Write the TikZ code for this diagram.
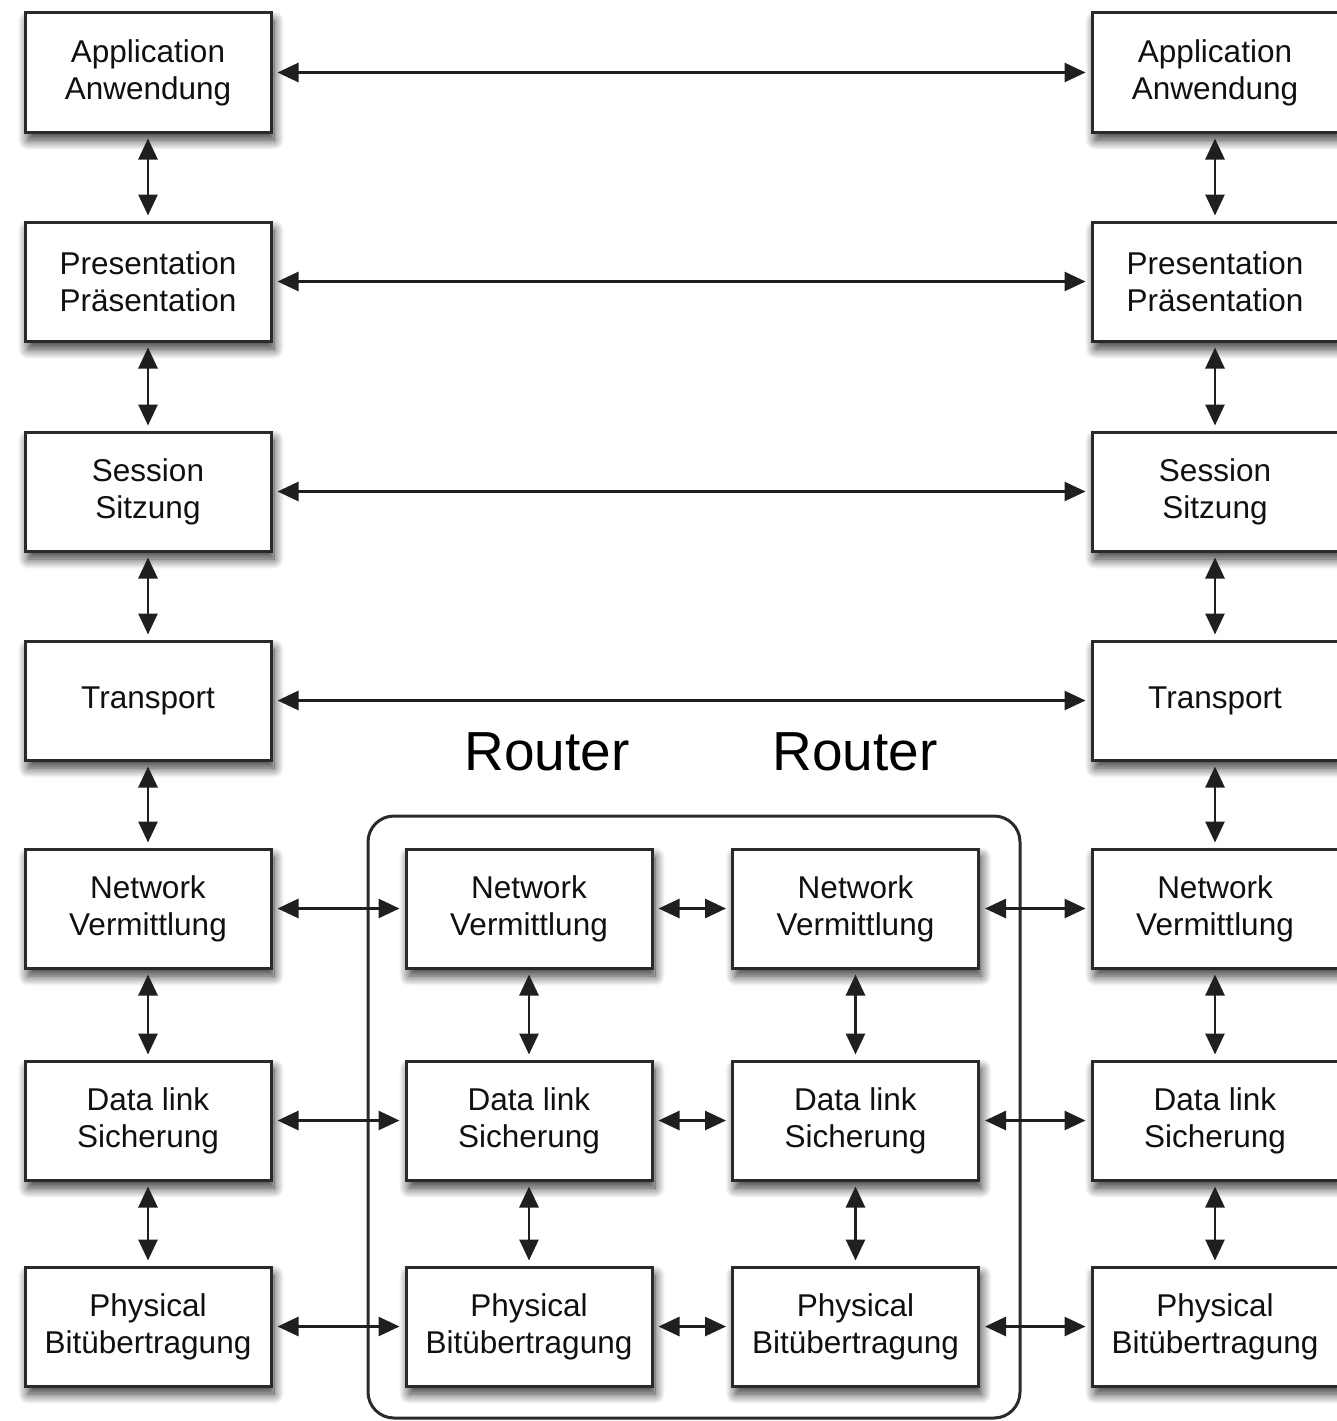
\documentclass[tikz,border=0pt]{standalone}
\usepackage{fontspec}
\setmainfont{Liberation Sans}
\usetikzlibrary{arrows.meta,shadows.blur}
\definecolor{boxline}{HTML}{2A2A2A}
\definecolor{txt}{HTML}{101010}
\tikzset{
  layer/.style={draw=boxline, line width=3pt, fill=white, minimum width=246pt, minimum height=119pt,
    inner sep=0pt, align=center, text=txt, font=\fontsize{31.5}{37}\selectfont,
    blur shadow={shadow xshift=3pt, shadow yshift=-8pt, shadow blur radius=10pt, shadow opacity=80, shadow blur steps=14}},
  conn/.style={line width=2.8pt, draw=black!88, {Triangle[length=21pt,width=19pt]}-{Triangle[length=21pt,width=19pt]}, shorten <=5pt, shorten >=5pt},
  routerlabel/.style={font=\fontsize{55}{60}\selectfont, text=black, inner sep=0pt},
  routerbox/.style={draw=boxline, line width=3pt, rounded corners=26pt}
}
\begin{document}
\begin{tikzpicture}[x=1pt,y=-1pt]
\useasboundingbox (0,0) rectangle (1337,1421);
% router frame
\node[routerbox, minimum width=652pt, minimum height=602pt, inner sep=0pt] (frame) at (694,1117) {};
\node[routerlabel] (r1) at (547,752) {Router};
\node[routerlabel] (r2) at (855,752) {Router};
% left column
\node[layer] (la) at (148,72.5) {Application\\Anwendung};
\node[layer] (lp) at (148,281.5) {Presentation\\Präsentation};
\node[layer] (ls) at (148,491.5) {Session\\Sitzung};
\node[layer] (lt) at (148,700.5) {Transport};
\node[layer] (ln) at (148,908.5) {Network\\Vermittlung};
\node[layer] (ld) at (148,1120.5) {Data link\\Sicherung};
\node[layer] (lh) at (148,1326.5) {Physical\\Bitübertragung};
% right column
\node[layer] (ra) at (1215,72.5) {Application\\Anwendung};
\node[layer] (rp) at (1215,281.5) {Presentation\\Präsentation};
\node[layer] (rs) at (1215,491.5) {Session\\Sitzung};
\node[layer] (rt) at (1215,700.5) {Transport};
\node[layer] (rn) at (1215,908.5) {Network\\Vermittlung};
\node[layer] (rd) at (1215,1120.5) {Data link\\Sicherung};
\node[layer] (rh) at (1215,1326.5) {Physical\\Bitübertragung};
% router 1
\node[layer] (an) at (529,908.5) {Network\\Vermittlung};
\node[layer] (ad) at (529,1120.5) {Data link\\Sicherung};
\node[layer] (ah) at (529,1326.5) {Physical\\Bitübertragung};
% router 2
\node[layer] (bn) at (855.5,908.5) {Network\\Vermittlung};
\node[layer] (bd) at (855.5,1120.5) {Data link\\Sicherung};
\node[layer] (bh) at (855.5,1326.5) {Physical\\Bitübertragung};
% vertical connectors
\foreach \a/\b in {la/lp,lp/ls,ls/lt,lt/ln,ln/ld,ld/lh,ra/rp,rp/rs,rs/rt,rt/rn,rn/rd,rd/rh,an/ad,ad/ah,bn/bd,bd/bh}
  \draw[conn] (\a.south) -- (\b.north);
% horizontal connectors
\foreach \a/\b in {la/ra,lp/rp,ls/rs,lt/rt,ln/an,an/bn,bn/rn,ld/ad,ad/bd,bd/rd,lh/ah,ah/bh,bh/rh}
  \draw[conn] (\a.east) -- (\b.west);
\end{tikzpicture}
\end{document}
